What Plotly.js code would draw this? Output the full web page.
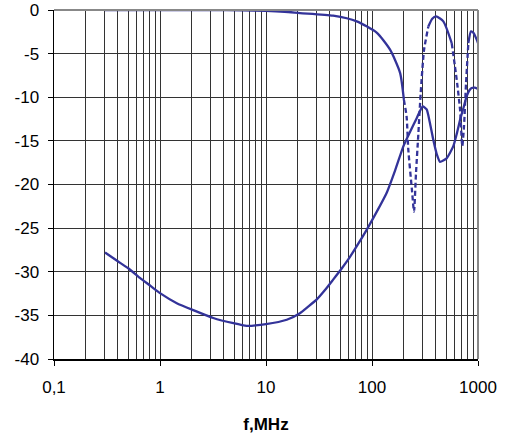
<!DOCTYPE html>
<html>
<head>
<meta charset="utf-8">
<script src="https://cdn.plot.ly/plotly-3.0.1.min.js"></script>
<style>html,body{margin:0;padding:0;background:#fff;}#chart{width:505px;height:440px;}</style>
</head>
<body>
<div id="chart"></div>
<script>
// Upper curve (transmission), MHz / dB
var freqA = [0.3, 1, 3, 6, 10, 15, 20.9, 43, 71.8, 110.7, 148, 184, 200,
             212, 220, 238, 249, 260, 274, 288, 310, 340,
             370, 402, 471, 565,
             630, 677, 711, 738, 771, 811,
             859, 904, 973, 1000];
var valA  = [0, 0, 0, -0.05, -0.1, -0.2, -0.35, -0.65, -1.3, -2.6, -4.55, -7.2, -10.3,
             -12.2, -16, -20.6, -23.1, -18.7, -14.1, -9.5, -4.55, -1.9,
             -1.0, -0.73, -1.3, -3.8,
             -8, -11.4, -15.6, -13.3, -8.4, -3.8,
             -2.45, -2.6, -3.4, -3.8];
// Lower curve (reflection), MHz / dB
var freqB = [0.303, 0.4, 0.502, 0.647, 0.8, 1, 1.44, 2.06, 3.18, 4.92, 6.58, 10, 15.7, 20.9, 25, 30, 36, 43, 52, 62, 75, 89, 110, 137, 165, 198, 230, 264, 301, 328, 350, 379, 410, 438, 506, 585, 630, 677, 730, 781, 830, 871, 930, 1000];
var valB  = [-27.8, -28.8, -29.6, -30.7, -31.55, -32.45, -33.6, -34.4, -35.3, -35.9, -36.2, -36.0, -35.5, -34.75, -34.0, -33.2, -32.1, -30.9, -29.6, -28.3, -26.7, -25.2, -23.2, -21.0, -18.4, -15.6, -13.9, -12.4, -11.05, -11.4, -12.8, -14.9, -16.6, -17.4, -17.0, -15.6, -14.2, -12.6, -11.2, -9.9, -9.2, -8.95, -8.9, -9.05];

var yTickVals = [0, -5, -10, -15, -20, -25, -30, -35, -40];
var yTickText = ['0', '-5', '-10', '-15', '-20', '-25', '-30', '-35', '-40'];
var xDecades = [0.1, 1, 10, 100, 1000];
var xTickText = ['0,1', '1', '10', '100', '1000'];
var xTitle = 'f,MHz';

// segments of upper curve: [startIndex, endIndex, dashed]
var segs = [[0, 12, false], [12, 21, true], [21, 25, false], [25, 31, true], [31, 35, false]];

var col = '#333399';
var traces = [];
segs.forEach(function (s) {
  traces.push({
    x: freqA.slice(s[0], s[1] + 1), y: valA.slice(s[0], s[1] + 1),
    type: 'scatter', mode: 'lines', line: {color: col, width: 2.3, dash: s[2] ? '5px,3px' : 'solid', shape: 'spline', smoothing: 0.6},
    hoverinfo: 'skip', showlegend: false
  });
});
traces.push({
  x: freqB, y: valB, type: 'scatter', mode: 'lines',
  line: {color: col, width: 2.3, shape: 'spline', smoothing: 0.5}, hoverinfo: 'skip', showlegend: false
});

// grid positions at 1..9 multiples of each decade
var gridVals = [], gridText = [];
for (var d = 0; d < xDecades.length; d++) {
  for (var m = 1; m <= 9; m++) {
    if (d === xDecades.length - 1 && m > 1) break;
    gridVals.push(xDecades[d] * m);
    gridText.push(m === 1 ? xTickText[d] : '');
  }
}

var layout = {
  width: 505, height: 440,
  margin: {l: 54, r: 27, t: 10, b: 81},
  paper_bgcolor: '#fff', plot_bgcolor: '#fff',
  font: {family: 'Liberation Sans, Arial, sans-serif', size: 17, color: '#000'},
  xaxis: {
    type: 'log', range: [-1, 3],
    tickmode: 'array', tickvals: gridVals, ticktext: gridText, ticks: '',
    ticklabelstandoff: 12,
    showgrid: true, gridcolor: '#333', gridwidth: 1,
    minor: {tickmode: 'array', tickvals: xDecades, ticks: 'outside', ticklen: 5, tickcolor: '#000', tickwidth: 1, showgrid: false},
    showline: true, linecolor: '#000', linewidth: 1.5,
    zeroline: false,
    tickfont: {size: 17},
    title: {text: '<b>' + xTitle + '</b>', font: {size: 17}, standoff: 22}
  },
  yaxis: {
    range: [-40, 0], tickmode: 'array', tickvals: yTickVals, ticktext: yTickText,
    ticks: 'outside', ticklen: 5, tickcolor: '#000',
    ticklabelstandoff: 5,
    showgrid: true, gridcolor: '#333', gridwidth: 1,
    showline: true, linecolor: '#000', linewidth: 1.5, zeroline: false,
    tickfont: {size: 17}
  },
  shapes: [
    {type: 'line', xref: 'paper', yref: 'paper', x0: 0, x1: 1, y0: 1, y1: 1, line: {color: '#888', width: 2}},
    {type: 'line', xref: 'paper', yref: 'paper', x0: 1, x1: 1, y0: 0, y1: 1, line: {color: '#888', width: 2}}
  ]
};

Plotly.newPlot('chart', traces, layout, {staticPlot: true, displayModeBar: false});
</script>
</body>
</html>
